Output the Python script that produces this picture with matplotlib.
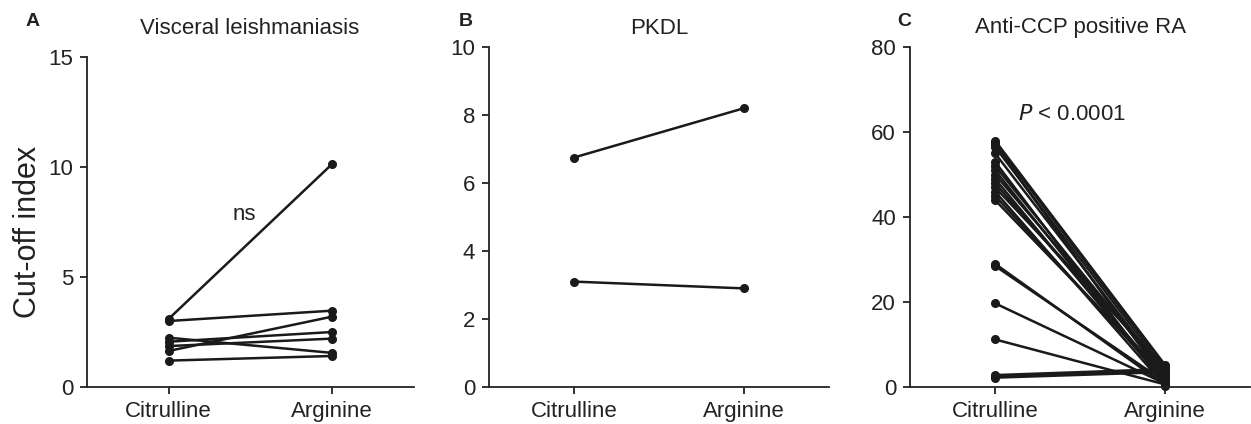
import matplotlib
matplotlib.use("Agg")
import matplotlib.pyplot as plt

plt.rcParams['font.family'] = ['Liberation Sans', 'DejaVu Sans']

groups = ["Citrulline", "Arginine"]

# panel A - visceral leishmaniasis
vl_cit = [3.1, 3.0, 2.24, 2.06, 1.86, 1.64, 1.2]
vl_arg = [10.14, 3.47, 1.55, 2.5, 2.2, 3.2, 1.41]

# panel B - PKDL
pkdl_cit = [6.75, 3.1]
pkdl_arg = [8.2, 2.9]

# panel C - anti-CCP positive RA
ra_cit = [58.0, 57.5, 57.0, 56.5, 55.0, 53.0, 52.0, 51.0, 50.0, 49.0, 48.0,
          47.0, 46.0, 45.0, 44.0, 29.0, 28.5, 19.7, 11.2, 2.8, 2.5, 2.2]
ra_arg = [5.2, 4.8, 1.5, 4.0, 3.2, 0.5, 2.8, 1.0, 3.5, 0.8, 2.0,
          4.5, 0.3, 1.8, 2.5, 0.5, 1.2, 0.8, 0.6, 4.2, 3.8, 3.5]

fig = plt.figure(figsize=(12.51, 4.24), dpi=100)
W, H = 1251.0, 424.0


def make_ax(left, right, top, bottom=387):
    return fig.add_axes([left / W, 1 - bottom / H, (right - left) / W, (bottom - top) / H])


def style(ax, ymax, yticks):
    ax.set_xlim(-0.5, 1.5)
    ax.set_ylim(0, ymax)
    ax.set_xticks([0, 1])
    ax.set_xticklabels(groups)
    ax.set_yticks(yticks)
    for s in ["top", "right"]:
        ax.spines[s].set_visible(False)
    for s in ["left", "bottom"]:
        ax.spines[s].set_linewidth(1.3)
        ax.spines[s].set_color("#222222")
    ax.tick_params(direction="out", length=5, width=1.3, labelsize=16,
                   colors="#222222", pad=5)
    for sp in ax.spines.values():
        sp.set_clip_on(False)


def pairs(ax, cit, arg):
    for a, b in zip(cit, arg):
        ax.plot([0, 1], [a, b], color="#1a1a1a", lw=1.8, marker="o",
                markersize=5.5, clip_on=False, solid_capstyle="round")


axA = make_ax(87, 414, 57)
pairs(axA, vl_cit, vl_arg)
style(axA, 15, [0, 5, 10, 15])
axA.set_ylabel("Cut-off index", fontsize=22, color="#222222")
axA.yaxis.set_label_coords((43 - 87) / 327, 0.47)
axA.text(0.46, 7.86, "ns", fontsize=16, ha="center", va="center", color="#222222")

axB = make_ax(489, 829, 47)
pairs(axB, pkdl_cit, pkdl_arg)
style(axB, 10, [0, 2, 4, 6, 8, 10])

axC = make_ax(910, 1250, 47)
pairs(axC, ra_cit, ra_arg)
style(axC, 80, [0, 20, 40, 60, 80])
axC.text(0.45, 64.2, r"$\it{P}$ < 0.0001", fontsize=16, ha="center",
         va="center", color="#222222")

titles = [("Visceral leishmaniasis", 250), ("PKDL", 659), ("Anti-CCP positive RA", 1081)]
for t, x in titles:
    fig.text(x / W, 1 - 28 / H, t, fontsize=16, ha="center", va="center", color="#222222")

for letter, x in [("A", 33), ("B", 466), ("C", 904)]:
    fig.text(x / W, 1 - 21 / H, letter, fontsize=14, fontweight="bold",
             ha="center", va="center", color="#222222")

fig.savefig("out.png", dpi=100)
